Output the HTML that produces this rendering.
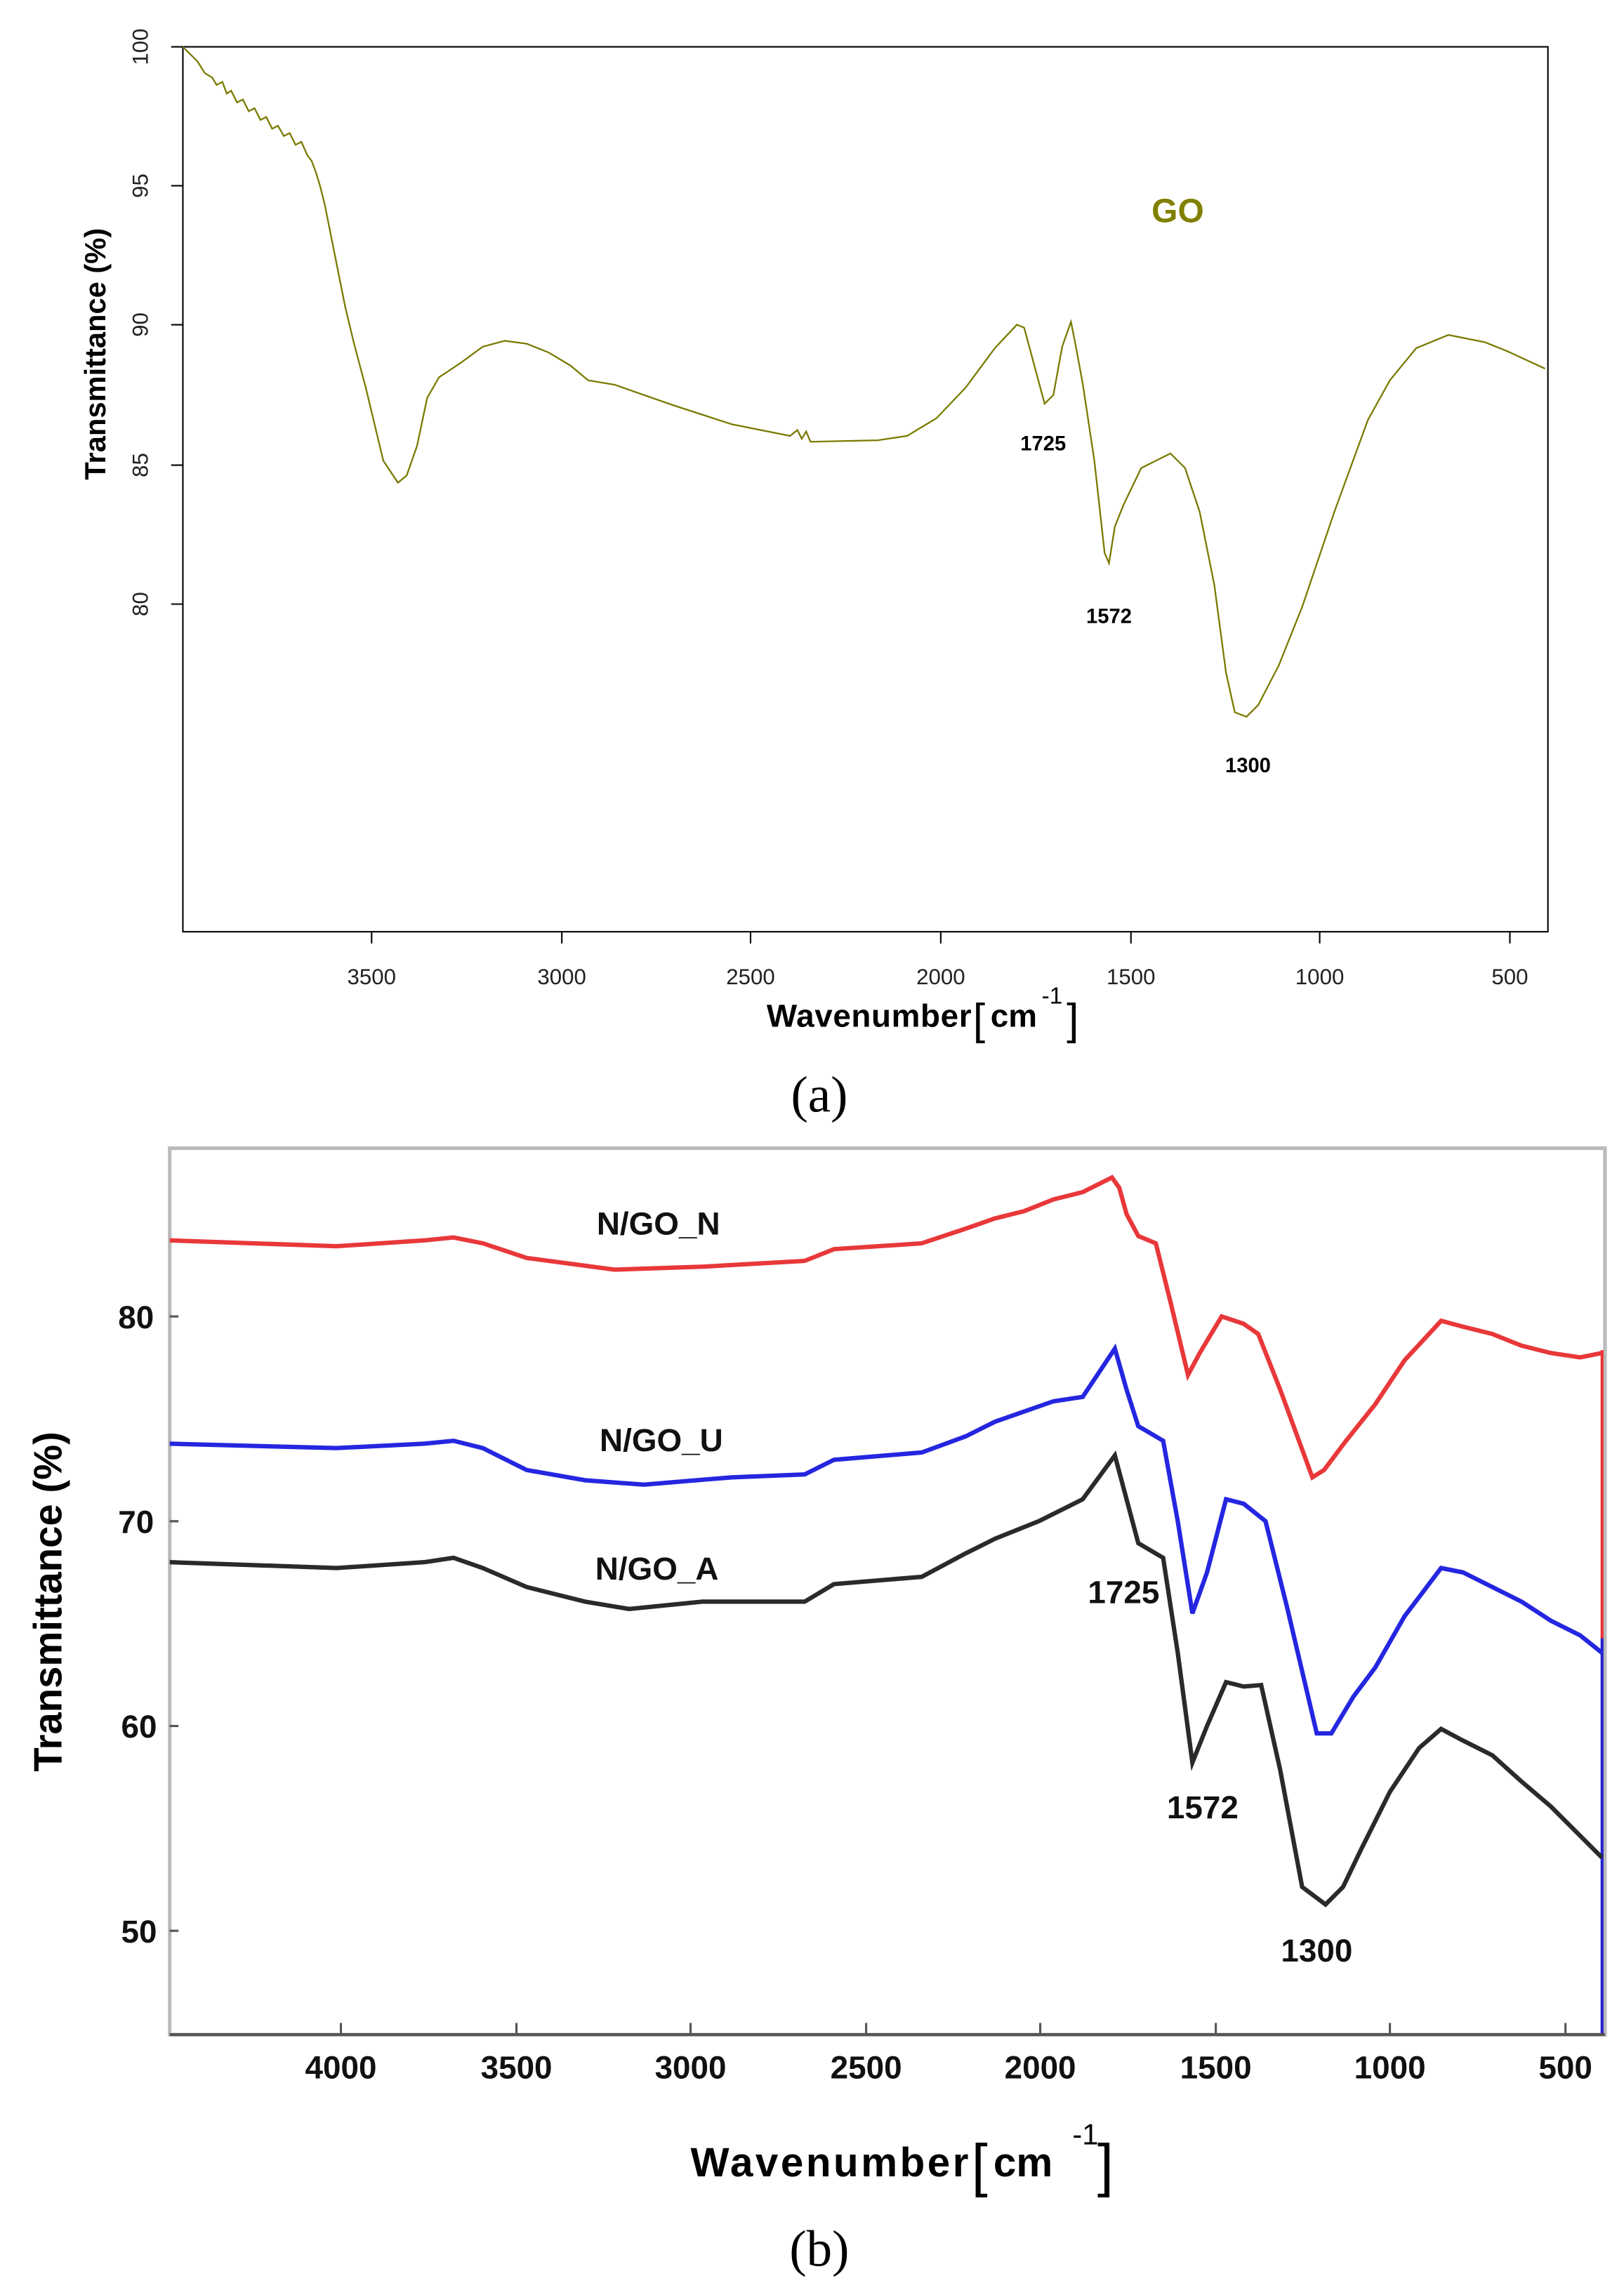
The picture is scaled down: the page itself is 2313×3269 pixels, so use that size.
<!DOCTYPE html>
<html><head><meta charset="utf-8"><style>html,body{margin:0;padding:0;background:#fff}svg{display:block}</style></head>
<body>
<svg width="2313" height="3269" viewBox="0 0 1110 1569" preserveAspectRatio="none" xmlns="http://www.w3.org/2000/svg" font-family="Liberation Sans, sans-serif">
<!-- Panel a -->
<rect x="125" y="32" width="933" height="605" fill="none" stroke="#000" stroke-width="1"/>
<g stroke="#000" stroke-width="1">
<line x1="254" y1="637" x2="254" y2="645"/><line x1="384" y1="637" x2="384" y2="645"/><line x1="513" y1="637" x2="513" y2="645"/><line x1="643" y1="637" x2="643" y2="645"/><line x1="773" y1="637" x2="773" y2="645"/><line x1="902" y1="637" x2="902" y2="645"/><line x1="1032" y1="637" x2="1032" y2="645"/>
<line x1="117" y1="32" x2="125" y2="32"/><line x1="117" y1="127" x2="125" y2="127"/><line x1="117" y1="222" x2="125" y2="222"/><line x1="117" y1="318" x2="125" y2="318"/><line x1="117" y1="413" x2="125" y2="413"/>
</g>
<g font-size="15" fill="#222" text-anchor="middle">
<text x="254" y="673">3500</text><text x="384" y="673">3000</text><text x="513" y="673">2500</text><text x="643" y="673">2000</text><text x="773" y="673">1500</text><text x="902" y="673">1000</text><text x="1032" y="673">500</text>
<text transform="translate(101,32) rotate(-90)">100</text><text transform="translate(101,127) rotate(-90)">95</text><text transform="translate(101,222) rotate(-90)">90</text><text transform="translate(101,318) rotate(-90)">85</text><text transform="translate(101,413) rotate(-90)">80</text>
</g>
<text transform="translate(72,242) rotate(-90)" font-size="20" font-weight="bold" text-anchor="middle">Transmittance (%)</text>
<text x="664" y="702" font-size="22" font-weight="bold" text-anchor="end" textLength="140">Wavenumber</text>
<text x="665" y="707" font-size="30">[</text><text x="677" y="702" font-size="22" font-weight="bold">cm</text><text x="712" y="686" font-size="16">-1</text><text x="729" y="707" font-size="30">]</text>
<text x="805" y="152" font-size="23" font-weight="bold" fill="#808000" text-anchor="middle">GO</text>
<g font-size="14" font-weight="bold" text-anchor="middle"><text x="713" y="308">1725</text><text x="758" y="426">1572</text><text x="853" y="528">1300</text></g>
<polyline fill="none" stroke="#7a7a00" stroke-width="1.1" points="125,32 135,42 140,50 145,53 148,58 152,56 155,64 158,62 162,70 166,68 170,76 174,74 178,82 182,80 186,88 190,86 194,93 198,91 202,99 206,97 210,106 213,110 216,118 219,128 222,140 230,180 236,210 242,235 250,265 262,315 272,330 278,325 285,305 292,272 300,258 315,248 330,237 345,233 360,235 375,241 390,250 402,260 420,263 460,277 500,290 540,298 545,294 548,300 551,295 554,302 600,301 620,298 640,286 660,265 680,238 695,222 700,224 707,250 714,276 720,270 726,237 732,220 735,235 740,262 748,315 755,378 758,385 762,360 768,345 780,320 800,310 810,320 820,350 830,400 838,460 844,487 852,490 860,482 874,455 890,415 912,350 935,287 950,260 968,238 990,229 1015,234 1030,240 1056,252"/>
<text x="560" y="760" font-family="Liberation Serif, serif" font-size="35" text-anchor="middle">(a)</text>

<!-- Panel b -->
<rect x="116" y="785" width="981" height="606" fill="none" stroke="#bbb" stroke-width="2.5"/>
<line x1="116" y1="1391" x2="1097" y2="1391" stroke="#555" stroke-width="2"/>
<g stroke="#555" stroke-width="1.5">
<line x1="233" y1="1391" x2="233" y2="1383"/><line x1="353" y1="1391" x2="353" y2="1383"/><line x1="472" y1="1391" x2="472" y2="1383"/><line x1="592" y1="1391" x2="592" y2="1383"/><line x1="711" y1="1391" x2="711" y2="1383"/><line x1="831" y1="1391" x2="831" y2="1383"/><line x1="950" y1="1391" x2="950" y2="1383"/><line x1="1070" y1="1391" x2="1070" y2="1383"/>
<line x1="116" y1="900" x2="122" y2="900"/><line x1="116" y1="1040" x2="122" y2="1040"/><line x1="116" y1="1180" x2="122" y2="1180"/><line x1="116" y1="1320" x2="122" y2="1320"/>
</g>
<g font-size="22" font-weight="bold" text-anchor="middle" fill="#111">
<text x="233" y="1421">4000</text><text x="353" y="1421">3500</text><text x="472" y="1421">3000</text><text x="592" y="1421">2500</text><text x="711" y="1421">2000</text><text x="831" y="1421">1500</text><text x="950" y="1421">1000</text><text x="1070" y="1421">500</text>
<text x="93" y="908">80</text><text x="93" y="1048">70</text><text x="95" y="1188">60</text><text x="95" y="1328">50</text>
</g>
<text transform="translate(42,1095) rotate(-90)" font-size="27" font-weight="bold" text-anchor="middle">Transmittance (%)</text>
<text x="662" y="1488" font-size="28" font-weight="bold" text-anchor="end" textLength="190">Wavenumber</text>
<text x="664" y="1494" font-size="40">[</text><text x="679" y="1488" font-size="28" font-weight="bold">cm</text><text x="733" y="1466" font-size="20">-1</text><text x="750" y="1494" font-size="40">]</text>
<g font-size="22" font-weight="bold" text-anchor="middle" fill="#111">
<text x="450" y="844">N/GO_N</text><text x="452" y="992">N/GO_U</text><text x="449" y="1080">N/GO_A</text>
<text x="768" y="1096">1725</text><text x="822" y="1243">1572</text><text x="900" y="1341">1300</text>
</g>
<line x1="1095" y1="923" x2="1095" y2="1120" stroke="#e33" stroke-width="2"/>
<line x1="1095" y1="1120" x2="1095" y2="1390" stroke="#22c" stroke-width="2"/>
<polyline fill="none" stroke="#e8383a" stroke-width="3" points="116,848 230,852 290,848 310,846 330,850 360,860 420,868 480,866 550,862 570,854 630,850 660,840 680,833 700,828 720,820 740,815 760,805 765,812 770,830 778,845 790,850 800,890 812,940 820,925 835,900 850,905 860,912 875,950 897,1010 905,1005 920,985 940,960 960,930 985,903 1000,907 1020,912 1040,920 1060,925 1080,928 1095,925"/>
<polyline fill="none" stroke="#2426e0" stroke-width="3" points="116,987 230,990 290,987 310,985 330,990 360,1005 400,1012 440,1015 500,1010 550,1008 570,998 630,993 660,982 680,972 700,965 720,958 740,955 762,922 770,950 778,975 795,985 805,1040 815,1103 825,1075 838,1025 850,1028 865,1040 880,1100 900,1185 910,1185 925,1160 940,1140 960,1105 985,1072 1000,1075 1020,1085 1040,1095 1060,1108 1080,1118 1095,1130"/>
<polyline fill="none" stroke="#2a2a2a" stroke-width="3" points="116,1068 230,1072 290,1068 310,1065 330,1072 360,1085 400,1095 430,1100 480,1095 550,1095 570,1083 630,1078 660,1062 680,1052 710,1040 740,1025 762,995 770,1025 778,1055 795,1065 805,1130 815,1205 825,1180 838,1150 850,1153 862,1152 875,1210 890,1290 906,1302 918,1290 930,1265 950,1225 970,1195 985,1182 1000,1190 1020,1200 1040,1218 1060,1235 1080,1255 1095,1270"/>
<text x="560" y="1549" font-family="Liberation Serif, serif" font-size="35" text-anchor="middle">(b)</text>
</svg>
</body></html>
